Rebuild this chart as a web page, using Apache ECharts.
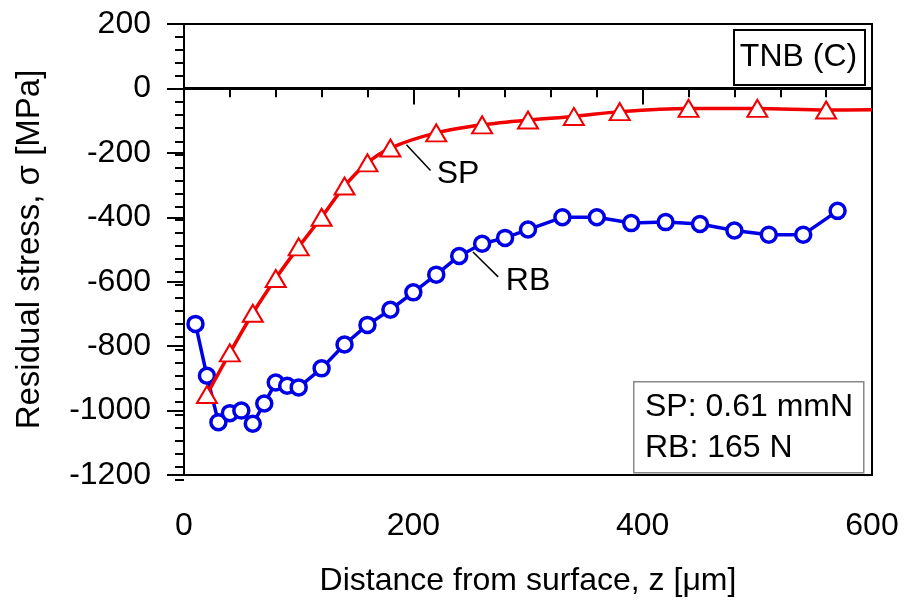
<!DOCTYPE html>
<html>
<head>
<meta charset="utf-8">
<script src="https://cdn.jsdelivr.net/npm/echarts@6/dist/echarts.min.js"></script>
<style>html,body{margin:0;padding:0;background:#fff}#c{width:910px;height:602px}</style>
</head>
<body>
<div id="c"></div>
<script>
// Data
const spDepth = [20, 40, 60, 80, 100, 120, 140, 160, 180, 220, 260, 300, 340, 380, 440, 500, 560];
const spStress = [-950, -821, -698, -590, -492, -400, -303, -231, -185, -138, -113, -98, -87, -72, -62, -62, -67];
const spLineEnd = [600, -66];

const rbDepth = [10, 20, 30, 40, 50, 60, 70, 80, 90, 100, 120, 140, 160, 180, 200, 220, 240, 260, 280, 300, 330, 360, 390, 420, 450, 480, 510, 540, 570];
const rbStress = [-731, -892, -1036, -1008, -1000, -1041, -978, -913, -923, -928, -869, -795, -734, -687, -633, -578, -520, -482, -464, -438, -400, -400, -418, -415, -421, -441, -454, -454, -380];

const xTicks = [0, 200, 400, 600];
const yTicks = [-1200, -1000, -800, -600, -400, -200, 0, 200];

const xTitle = 'Distance from surface, z [\u03bcm]';
const yTitle = 'Residual stress, \u03c3 [MPa]';
const boxTitle = 'TNB (C)';
const legendLines = ['SP: 0.61 mmN', 'RB: 165 N'];
const spLabel = {text: 'SP', leader: [[194, -175], [215, -255]], at: [239, -267]};
const rbLabel = {text: 'RB', leader: [[252, -508], [274, -585]], at: [300, -599]};

const FONT = 'Liberation Sans, Arial, sans-serif';
const FS = 32;

const spData = spDepth.map((d, i) => [d, spStress[i]]);
spData.push({value: spLineEnd, symbol: 'none'});
const rbData = rbDepth.map((d, i) => [d, rbStress[i]]);

function annot(lbl) {
  return {
    markLine: {
      silent: true, symbol: 'none', animation: false,
      lineStyle: {color: '#000', width: 1.5, type: 'solid'},
      label: {show: false},
      data: [[{coord: lbl.leader[0]}, {coord: lbl.leader[1]}]]
    },
    markPoint: {
      silent: true, animation: false,
      symbol: 'circle', symbolSize: 1,
      itemStyle: {color: 'rgba(0,0,0,0)'},
      label: {show: true, position: 'inside', formatter: lbl.text, color: '#000', fontSize: FS, fontFamily: FONT},
      data: [{coord: lbl.at}]
    }
  };
}

const plain = v => String(v);
const gridPos = {left: 184, right: 38, top: 24, bottom: 122};
const xMin = xTicks[0], xMax = xTicks[xTicks.length - 1];
const yMin = yTicks[0], yMax = yTicks[yTicks.length - 1];

const chart = echarts.init(document.getElementById('c'), null, {renderer: 'canvas'});
chart.setOption({
  animation: false,
  backgroundColor: '#fff',
  textStyle: {fontFamily: FONT},
  grid: [
    Object.assign({show: true, borderColor: '#000', borderWidth: 2, backgroundColor: 'transparent'}, gridPos),
    Object.assign({show: false}, gridPos)
  ],
  xAxis: [{
    gridIndex: 0, type: 'value', min: xMin, max: xMax, interval: 200,
    name: xTitle, nameLocation: 'middle', nameGap: 90,
    nameTextStyle: {fontSize: FS, color: '#000', fontFamily: FONT},
    axisLine: {show: true, lineStyle: {color: '#000', width: 2}},
    axisTick: {show: true, inside: false, length: 16, lineStyle: {color: '#000', width: 2}},
    splitLine: {show: false},
    axisLabel: {fontSize: FS, color: '#000', margin: 35, fontFamily: FONT, formatter: plain}
  }, {
    gridIndex: 1, type: 'value', min: xMin, max: xMax, interval: 40,
    axisLine: {show: false},
    axisTick: {show: true, inside: false, length: 8, lineStyle: {color: '#000', width: 2}},
    splitLine: {show: false},
    axisLabel: {show: false}
  }],
  yAxis: [{
    gridIndex: 0, type: 'value', min: yMin, max: yMax, interval: 200,
    name: yTitle, nameLocation: 'middle', nameGap: 138,
    nameTextStyle: {fontSize: 33, color: '#000', fontFamily: FONT},
    axisLine: {show: true, lineStyle: {color: '#000', width: 2}},
    axisTick: {show: true, inside: false, length: 17, lineStyle: {color: '#000', width: 2}},
    splitLine: {show: false},
    axisLabel: {fontSize: FS, color: '#000', margin: 33, fontFamily: FONT, formatter: plain}
  }, {
    gridIndex: 1, type: 'value', min: yMin, max: yMax, interval: 40,
    axisLine: {show: false},
    axisTick: {show: true, inside: false, length: 9, lineStyle: {color: '#000', width: 2}},
    splitLine: {show: false},
    axisLabel: {show: false}
  }],
  series: [
    Object.assign({
      name: 'RB', type: 'line', data: rbData, xAxisIndex: 0, yAxisIndex: 0,
      symbol: 'circle', symbolSize: 15,
      lineStyle: {color: '#0000e6', width: 3.5},
      itemStyle: {color: '#fff', borderColor: '#0000e6', borderWidth: 3.5},
      z: 3
    }, annot(rbLabel)),
    Object.assign({
      name: 'SP', type: 'line', data: spData, smooth: 0.3, xAxisIndex: 0, yAxisIndex: 0,
      symbol: 'triangle', symbolSize: [20, 17],
      lineStyle: {color: '#f00000', width: 3.5},
      itemStyle: {color: '#fff', borderColor: '#f00000', borderWidth: 2},
      z: 4
    }, annot(spLabel)),
    {
      name: 'zero', type: 'line', data: [], silent: true, xAxisIndex: 0, yAxisIndex: 0,
      markLine: {
        silent: true, symbol: 'none', animation: false,
        lineStyle: {color: '#000', width: 3, type: 'solid'},
        label: {show: false},
        data: [{yAxis: 0}]
      },
      z: 2
    },
    {name: 'ticks', type: 'line', data: [], silent: true, xAxisIndex: 1, yAxisIndex: 1}
  ],
  graphic: [
    {type: 'rect', left: 733, top: 29, shape: {width: 131, height: 55}, style: {fill: '#fff', stroke: '#000', lineWidth: 2}, z: 10},
    {type: 'text', x: 798.5, y: 57, style: {text: boxTitle, fontSize: FS, fill: '#000', fontFamily: FONT, textAlign: 'center', textVerticalAlign: 'middle'}, z: 11},
    {type: 'rect', left: 633, top: 381, shape: {width: 230, height: 91}, style: {fill: '#fff', stroke: '#888', lineWidth: 1.5}, z: 10},
    {type: 'text', x: 645, y: 407, style: {text: legendLines[0], fontSize: FS, fill: '#000', fontFamily: FONT, textVerticalAlign: 'middle'}, z: 11},
    {type: 'text', x: 645, y: 448, style: {text: legendLines[1], fontSize: FS, fill: '#000', fontFamily: FONT, textVerticalAlign: 'middle'}, z: 11}
  ]
});
</script>
</body>
</html>
